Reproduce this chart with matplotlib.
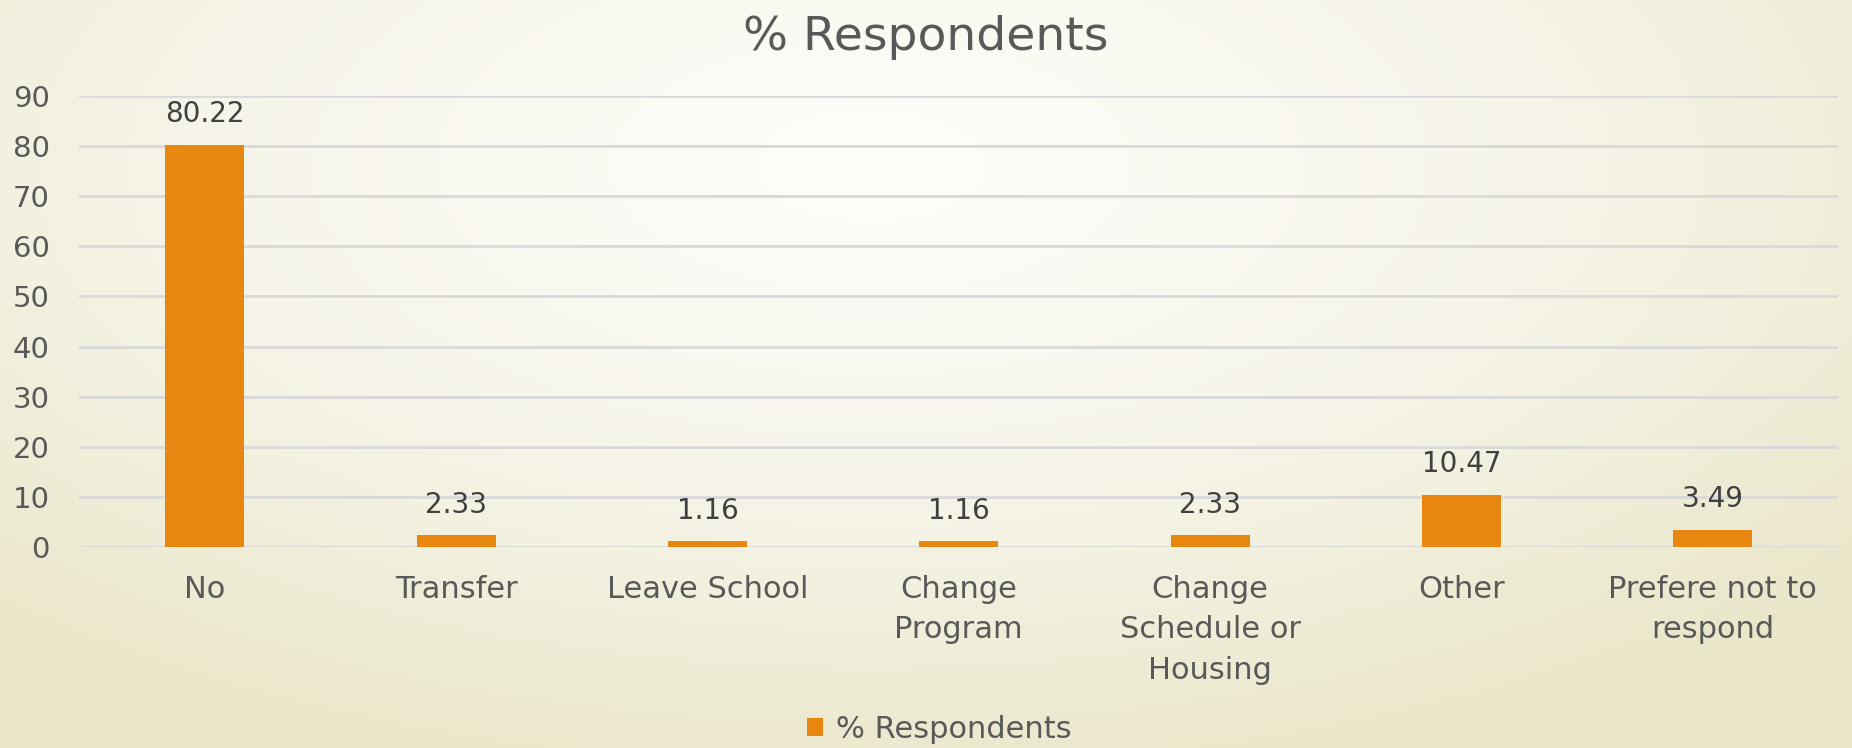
import numpy as np
import matplotlib.pyplot as plt
from matplotlib.colors import LinearSegmentedColormap

categories = ['No', 'Transfer', 'Leave School', 'Change\nProgram',
              'Change\nSchedule or\nHousing', 'Other', 'Prefere not to\nrespond']
values = [80.22, 2.33, 1.16, 1.16, 2.33, 10.47, 3.49]
yticks = [0, 10, 20, 30, 40, 50, 60, 70, 80, 90]
series_name = '% Respondents'

bar_color = '#E8870F'
text_color = '#595959'
grid_color = '#D9D9D9'

plt.rcParams['font.family'] = ['DejaVu Sans']

fig = plt.figure(figsize=(18.52, 7.48), dpi=100)

# radial background: white near top centre, beige at the edges
bg = fig.add_axes([0, 0, 1, 1], zorder=-10)
gx, gy = np.meshgrid(np.linspace(0, 1, 400), np.linspace(0, 1, 200))
r = np.sqrt(((gx - 0.47) / 0.75) ** 2 + ((gy - 0.22) / 0.9) ** 2)
r = np.clip(r, 0, 1)
cmap = LinearSegmentedColormap.from_list('bg', ['#FEFEFB', '#F6F4E8', '#E9E5C6'])
bg.imshow(r, cmap=cmap, aspect='auto', extent=[0, 1, 0, 1], origin='upper', vmin=0, vmax=1)
bg.axis('off')

ax = fig.add_axes([0.0427, 0.2687, 0.950, 0.603])
ax.patch.set_alpha(0)
x = np.arange(len(categories))
bars = ax.bar(x, values, width=0.314, color=bar_color, zorder=3, label=series_name)
for xi, v in zip(x, values):
    ax.annotate(f'{v:.2f}', (xi, v), xytext=(0, 12), textcoords='offset points',
                ha='center', va='bottom', fontsize=20, color='#404040')

ax.set_xlim(-0.5, len(categories) - 0.5)
ax.set_ylim(0, 90)
ax.set_yticks(yticks)
ax.yaxis.grid(True, color=grid_color, linewidth=2, zorder=0)
ax.set_xticks(x)
ax.set_xticklabels(categories, linespacing=1.5)
ax.tick_params(axis='both', length=0, labelcolor=text_color)
ax.tick_params(axis='x', labelsize=22, pad=20)
ax.tick_params(axis='y', labelsize=21, pad=21)
for s in ax.spines.values():
    s.set_visible(False)

fig.text(0.5, 0.95, series_name, ha='center', va='center', fontsize=34, color=text_color)
fig.legend(handles=[bars], labels=[series_name], loc='center', bbox_to_anchor=(0.507, 0.025),
           frameon=False, fontsize=22, labelcolor=text_color, handlelength=0.55,
           handleheight=0.55, handletextpad=0.4)

fig.savefig('out.png', dpi=100)
